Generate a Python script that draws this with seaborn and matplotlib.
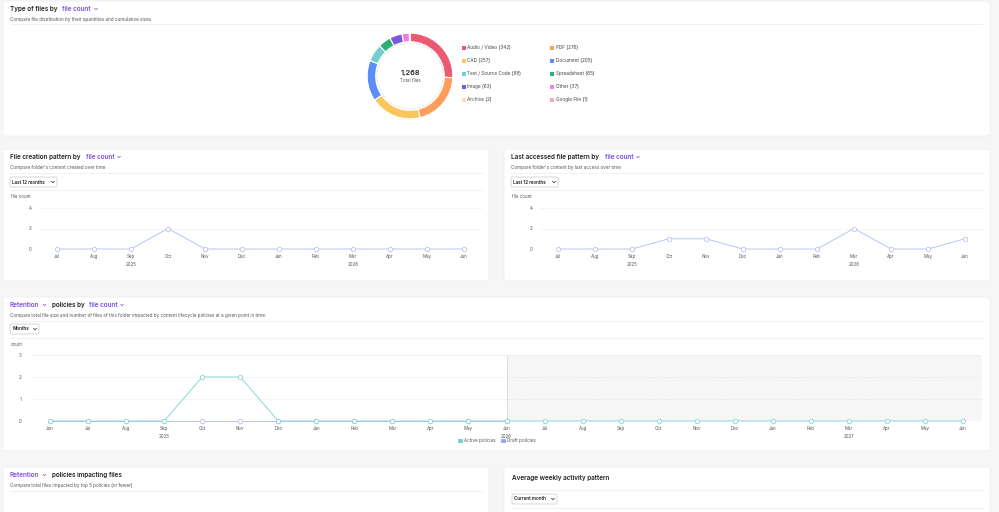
import numpy as np
import pandas as pd
import seaborn as sns
import matplotlib.pyplot as plt
from matplotlib.patches import FancyBboxPatch, Patch, Circle

W, H = 999, 512

# ---- data ----
file_types = ["Audio / Video", "PDF", "CAD", "Document", "Text / Source Code",
              "Spreadsheet", "Image", "Other", "Archive", "Google File"]
file_counts = [342, 276, 257, 205, 88, 65, 63, 37, 2, 1]
type_colors = ["#ea5a72", "#ff9d5c", "#f9c75c", "#5d8ef8", "#6fd0cf",
               "#2eae78", "#7b57e2", "#ee7fe0", "#fde2ad", "#f7a9b9"]
total_label = "1,268"

months_12 = ["Jul", "Aug", "Sep", "Oct", "Nov", "Dec",
             "Jan", "Feb", "Mar", "Apr", "May", "Jun"]
years_12 = [("2025", "Sep"), ("2026", "Mar")]
created_counts = [0, 0, 0, 2, 0, 0, 0, 0, 0, 0, 0, 0]
accessed_counts = [0, 0, 0, 1, 1, 0, 0, 0, 2, 0, 0, 1]

months_25 = ["Jun", "Jul", "Aug", "Sep", "Oct", "Nov", "Dec", "Jan", "Feb",
             "Mar", "Apr", "May", "Jun", "Jul", "Aug", "Sep", "Oct", "Nov",
             "Dec", "Jan", "Feb", "Mar", "Apr", "May", "Jun"]
years_25 = [("2025", 3), ("2026", 12), ("2027", 21)]
active_policies = [0, 0, 0, 0, 2, 2, 0, 0, 0, 0, 0, 0, 0,
                   0, 0, 0, 0, 0, 0, 0, 0, 0, 0, 0, 0]
draft_policies = [0, 0, 0, 0, 0, 0, 0, 0, 0, 0, 0, 0, 0]

PURPLE = "#7c4fe0"
DARK = "#222222"
GREY = "#555555"
LINE = "#b9c3f7"
TEAL = "#86d6da"
TS = 4.6   # title size
SS = 3.3   # subtitle size

sns.set_theme(style="white")
plt.rcParams["font.family"] = ["Inter", "DejaVu Sans"]

fig = plt.figure(figsize=(W / 100, H / 100), dpi=100)
fig.patch.set_facecolor("#f6f6f6")

bg = fig.add_axes([0, 0, 1, 1])
bg.set_xlim(0, W)
bg.set_ylim(H, 0)
bg.axis("off")
bg.set_zorder(-1)


def px(x, y, w, h):
    return [x / W, 1 - (y + h) / H, w / W, h / H]


def card(x, y, w, h):
    bg.add_patch(FancyBboxPatch((x, y), w, h, boxstyle="round,pad=0,rounding_size=3",
                                fc="white", ec="#ececec", lw=0.5))


def sep(x0, x1, y):
    bg.plot([x0, x1], [y, y], color="#efefef", lw=0.6)


def chevron(x, y, color, s=1.4):
    bg.plot([x - s, x, x + s], [y - s * 0.5, y + s * 0.5, y - s * 0.5],
            color=color, lw=0.5, solid_capstyle="round")


def txt(x, y, s, size=3.2, color=GREY, weight="normal", ha="left"):
    bg.text(x, y, s, fontsize=size, color=color, fontweight=weight,
            ha=ha, va="center")


def dropdown(x, y, w, label):
    bg.add_patch(FancyBboxPatch((x, y), w, 10, boxstyle="round,pad=0,rounding_size=1.5",
                                fc="white", ec="#c8c8c8", lw=0.5))
    txt(x + 2.3, y + 5, label, size=3.3, color=DARK, weight="semibold")
    chevron(x + w - 4, y + 5, DARK, 1.5)


# ---- cards ----
card(3, 1, 987, 135)
card(3, 149, 486, 132)
card(504, 149, 486, 132)
card(3, 297, 987, 154)
card(3, 467, 486, 50)
card(504, 467, 486, 50)

# card 1 header
txt(10, 9, "Type of files by", TS, DARK, "semibold")
txt(62, 9, "file count", TS, PURPLE, "semibold")
chevron(96, 9, PURPLE)
txt(10, 19, "Compare file distribution by their quantities and cumulative sizes", SS)
sep(10, 983, 24)

# donut
dax = fig.add_axes(px(365, 31, 90, 90))
dax.pie(file_counts, colors=type_colors, startangle=90, counterclock=False,
        wedgeprops=dict(width=0.2, edgecolor="white", linewidth=0.8))
dax.add_patch(Circle((0, 0), 0.77, fill=False, ls=(0, (1, 1.5)), ec="#c8c8c8", lw=0.5))
dax.set_xlim(-1.05, 1.05)
dax.set_ylim(-1.05, 1.05)
dax.set_aspect("equal")
dax.axis("off")
txt(410, 73, total_label, 5.3, DARK, "semibold", "center")
txt(410, 81, "Total files", 3.2, GREY, ha="center")

for i, (name, n, c) in enumerate(zip(file_types, file_counts, type_colors)):
    col, row = i % 2, i // 2
    x0 = 463.5 + col * 88.5
    y0 = 47.5 + row * 13
    bg.scatter([x0], [y0], s=6, marker="s", color=c, lw=0)
    txt(x0 + 3.5, y0, f"{name} ({n})", 3.4, "#444444")


# ---- line chart panels ----
def style_axis(ax, labels, ymax, yticks, pad):
    ax.set_xlim(-0.5, len(labels) - 0.5)
    ax.set_ylim(0, ymax)
    ax.set_xticks(range(len(labels)))
    ax.set_xticklabels(labels)
    ax.set_yticks(yticks)
    ax.set_xlabel("")
    ax.set_ylabel("")
    ax.patch.set_alpha(0)
    for s in ax.spines.values():
        s.set_visible(False)
    ax.tick_params(axis="both", length=0, labelsize=3.2, labelcolor="#555555")
    ax.tick_params(axis="x", pad=3.5)
    ax.tick_params(axis="y", pad=pad)
    ax.yaxis.grid(True, ls=(0, (2, 2)), color="#e3e3e3", lw=0.5)
    ax.xaxis.grid(False)


def year_labels(ax, pairs, offset):
    for year, pos in pairs:
        ax.annotate(year, xy=(pos, 0), xycoords=("data", "axes fraction"),
                    xytext=(0, -offset), textcoords="offset points",
                    ha="center", va="center", fontsize=3.2, color="#555555")


def pattern_panel(x, title, sub, title_w, values):
    txt(x + 7, 157, title, TS, DARK, "semibold")
    txt(x + 7 + title_w, 157, "file count", TS, PURPLE, "semibold")
    chevron(x + 40 + title_w, 157, PURPLE)
    txt(x + 7, 167, sub, SS)
    sep(x + 7, x + 480, 173)
    dropdown(x + 7, 177, 47, "Last 12 months")
    sep(x + 7, x + 480, 190)
    txt(x + 8, 197, "file count", 3.2, GREY)

    ax = fig.add_axes(px(x + 35.5, 208, 444, 41))
    df = pd.DataFrame({"month": range(len(months_12)), "count": values})
    sns.lineplot(data=df, x="month", y="count", ax=ax, color=LINE, lw=0.7,
                 marker="o", markersize=3.2, clip_on=False)
    for ln in ax.lines:
        ln.set_markerfacecolor("white")
        ln.set_markeredgecolor(LINE)
        ln.set_markeredgewidth(0.6)
    style_axis(ax, months_12, 4, [0, 2, 4], 5)
    year_labels(ax, [(y, months_12.index(m)) for y, m in years_12], 11.5)


pattern_panel(3, "File creation pattern by", "Compare folder's content created over time",
              76, created_counts)
pattern_panel(504, "Last accessed file pattern by",
              "Compare folder's content by last access over time", 94, accessed_counts)

# ---- retention panel ----
txt(10, 305, "Retention", TS, PURPLE, "semibold")
chevron(44.5, 305, PURPLE)
txt(52, 305, "policies by", TS, DARK, "semibold")
txt(89, 305, "file count", TS, PURPLE, "semibold")
chevron(122, 305, PURPLE)
txt(10, 315, "Compare total file size and number of files of this folder impacted by "
    "content lifecycle policies at a given point in time.", SS)
sep(10, 983, 321)
dropdown(10, 324, 29, "Months")
sep(10, 983, 338)
txt(11, 345, "count", 3.2, GREY)

rax = fig.add_axes(px(31, 355, 951, 66))
ret = pd.concat([
    pd.DataFrame({"month": range(len(draft_policies)), "count": draft_policies,
                  "policy": "Draft policies"}),
    pd.DataFrame({"month": range(len(active_policies)), "count": active_policies,
                  "policy": "Active policies"}),
], ignore_index=True)
pal = {"Active policies": TEAL, "Draft policies": LINE}
rax.axvspan(12, 24.5, color="#f6f6f6", zorder=0, lw=0)
sns.lineplot(data=ret, x="month", y="count", hue="policy", palette=pal, ax=rax,
             lw=0.7, marker="o", markersize=3.2, legend=False, clip_on=False)
for ln in rax.lines:
    c = ln.get_color()
    ln.set_markerfacecolor("white")
    ln.set_markeredgecolor(c)
    ln.set_markeredgewidth(0.6)
rax.axvline(12, color="#bdbdbd", ls=(0, (1, 1)), lw=0.7, zorder=1)
style_axis(rax, months_25, 3, [0, 1, 2, 3], 7)
year_labels(rax, years_25, 11)

handles = [Patch(fc="#6fcfd6", ec="#4fb8c0", lw=0.4, label="Active policies"),
           Patch(fc="#8ea6f6", ec="#6f8cf0", lw=0.4, label="Draft policies")]
fig.legend(handles=handles, loc="center", bbox_to_anchor=(497 / W, 1 - 440.5 / H),
           ncol=2, frameon=False, fontsize=3.3, handlelength=0.9, handleheight=0.9,
           handletextpad=0.4, columnspacing=1.2, labelcolor="#555555")

# ---- bottom cards ----
txt(10, 475, "Retention", TS, PURPLE, "semibold")
chevron(44.5, 475, PURPLE)
txt(52, 475, "policies impacting files", TS, DARK, "semibold")
txt(10, 485, "Compare total files impacted by top 5 policies (or fewer)", SS)
sep(10, 483, 491)

txt(512, 478, "Average weekly activity pattern", TS, DARK, "semibold")
sep(511, 984, 490)
dropdown(512, 494, 45, "Current month")
sep(511, 984, 508)

fig.savefig("out.png", dpi=100, facecolor=fig.get_facecolor())
